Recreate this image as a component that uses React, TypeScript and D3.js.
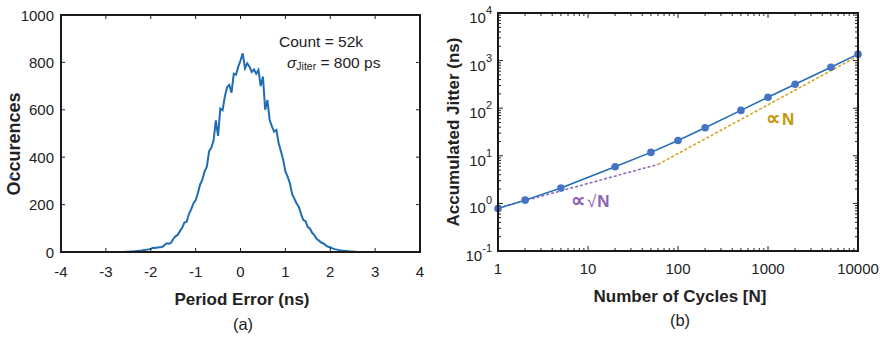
import React from "react";
import * as d3 from "d3";

// (a) histogram of period error
const errX = d3.range(-2.6, 2.6001, 0.05).map((v) => +v.toFixed(2));
const errCount = [
  0, 1, 1, 2, 2, 3, 4, 5, 6, 8, 9, 11, 13, 18, 17, 19, 20, 21, 28, 37, 35, 38,
  55, 66, 72, 88, 102, 124, 128, 160, 180, 205, 218, 248, 285, 305, 340, 360,
  425, 440, 470, 555, 490, 605, 598, 655, 695, 705, 672, 752, 748, 782, 808,
  838, 775, 796, 782, 760, 770, 752, 768, 700, 740, 600, 641, 557, 530, 508,
  515, 460, 425, 390, 340, 318, 290, 245, 225, 205, 190, 160, 135, 130, 105,
  98, 80, 70, 55, 48, 40, 36, 28, 22, 20, 15, 12, 10, 8, 6, 5, 4, 3, 2, 2, 1, 0,
];
const errTicksX = [-4, -3, -2, -1, 0, 1, 2, 3, 4];
const errTicksY = [0, 200, 400, 600, 800, 1000];

// (b) accumulated jitter vs cycles
const cycles = [1, 2, 5, 20, 50, 100, 200, 500, 1000, 2000, 5000, 10000];
const jitter = [0.78, 1.17, 2.1, 5.9, 11.8, 21, 38.8, 90, 170, 318, 726, 1365];
const sqrtFit = [
  [1, 0.8],
  [60, 6.6],
];
const linFit = [
  [60, 6.6],
  [10000, 1250],
];
const cycTicks = [1, 10, 100, 1000, 10000];
const jitExp = [-1, 0, 1, 2, 3, 4];

const FONT = "'Liberation Sans', Arial, sans-serif";
const BLUE = "#1f6db5";
const MARK = "#4673c4";
const ORANGE = "#d2a21c";
const ORANGE_TXT = "#c8960c";
const PURPLE = "#8a63b5";

export default function App() {
  // left panel
  const xa = d3.scaleLinear().domain([-4, 4]).range([61, 420]);
  const ya = d3.scaleLinear().domain([0, 1000]).range([252, 15]);
  const histLine = d3
    .line<number>()
    .x((_, i) => xa(errX[i]))
    .y((d) => ya(d));

  // right panel
  const xb = d3.scaleLog().domain([1, 10000]).range([498, 858]);
  const yb = d3.scaleLog().domain([0.1, 10000]).range([251, 13]);
  const jLine = d3
    .line<number>()
    .x((_, i) => xb(cycles[i]))
    .y((d) => yb(d));
  const fitLine = d3
    .line<number[]>()
    .x((d) => xb(d[0]))
    .y((d) => yb(d[1]));

  const minorX: number[] = [];
  for (let k = 0; k < 4; k++)
    for (let m = 2; m <= 9; m++) minorX.push(m * Math.pow(10, k));
  const minorY: number[] = [];
  for (let k = -1; k < 4; k++)
    for (let m = 2; m <= 9; m++) minorY.push(m * Math.pow(10, k));

  const [ax0, ax1] = xa.range();
  const [ay0, ay1] = ya.range();
  const [bx0, bx1] = xb.range();
  const [by0, by1] = yb.range();

  return (
    <svg
      width={886}
      height={339}
      style={{ position: "absolute", left: 0, top: 0, background: "#fff" }}
      fontFamily={FONT}
    >
      {/* ---------- (a) ---------- */}
      <path d={histLine(errCount) || ""} fill="none" stroke={BLUE} strokeWidth={2} />
      {errTicksX.map((t) => (
        <g key={"ax" + t}>
          <line x1={xa(t)} x2={xa(t)} y1={ay0} y2={ay0 - 4} stroke="#222" />
          <line x1={xa(t)} x2={xa(t)} y1={ay1} y2={ay1 + 4} stroke="#222" />
          <text x={xa(t)} y={276.5} fontSize={15} textAnchor="middle" fill="#222">
            {t}
          </text>
        </g>
      ))}
      {errTicksY.map((t) => (
        <g key={"ay" + t}>
          <line x1={ax0} x2={ax0 + 4} y1={ya(t)} y2={ya(t)} stroke="#222" />
          <line x1={ax1} x2={ax1 - 4} y1={ya(t)} y2={ya(t)} stroke="#222" />
          <text x={54} y={ya(t) + 5.5} fontSize={15} textAnchor="end" fill="#222">
            {t}
          </text>
        </g>
      ))}
      <rect
        x={ax0}
        y={ay1}
        width={ax1 - ax0}
        height={ay0 - ay1}
        fill="none"
        stroke="#1a1a1a"
        strokeWidth={2}
      />
      <text
        transform="translate(19.5,144) rotate(-90)"
        fontSize={18}
        fontWeight="bold"
        textAnchor="middle"
        fill="#222"
      >
        Occurences
      </text>
      <circle cx={11} cy={177} r={1.8} fill={MARK} />
      <text x={242} y={305} fontSize={17} fontWeight="bold" textAnchor="middle" fill="#222">
        Period Error (ns)
      </text>
      <text x={243} y={330} fontSize={16.5} textAnchor="middle" fill="#222">
        (a)
      </text>
      <text x={279} y={47} fontSize={15.5} fill="#222">
        Count = 52k
      </text>
      <text x={287} y={68} fontSize={15.5} fill="#222">
        <tspan fontStyle="italic">σ</tspan>
        <tspan fontSize={10.5} dy={2}>Jiter</tspan>
        <tspan dy={-2}> = 800 ps</tspan>
      </text>

      {/* ---------- (b) ---------- */}
      {minorX.map((t) => (
        <g key={"mx" + t}>
          <line x1={xb(t)} x2={xb(t)} y1={by0} y2={by0 - 3} stroke="#222" />
          <line x1={xb(t)} x2={xb(t)} y1={by1} y2={by1 + 3} stroke="#222" />
        </g>
      ))}
      {minorY.map((t) => (
        <g key={"my" + t}>
          <line x1={bx0} x2={bx0 + 3} y1={yb(t)} y2={yb(t)} stroke="#222" />
          <line x1={bx1} x2={bx1 - 3} y1={yb(t)} y2={yb(t)} stroke="#222" />
        </g>
      ))}
      {cycTicks.map((t) => (
        <g key={"bx" + t}>
          <line x1={xb(t)} x2={xb(t)} y1={by0} y2={by0 - 5} stroke="#222" />
          <line x1={xb(t)} x2={xb(t)} y1={by1} y2={by1 + 5} stroke="#222" />
          <text x={xb(t)} y={274} fontSize={15} textAnchor="middle" fill="#222">
            {t}
          </text>
        </g>
      ))}
      {jitExp.map((e) => {
        const y = yb(Math.pow(10, e));
        return (
          <g key={"by" + e}>
            <line x1={bx0} x2={bx0 + 5} y1={y} y2={y} stroke="#222" />
            <line x1={bx1} x2={bx1 - 5} y1={y} y2={y} stroke="#222" />
            <text x={492} y={y + 10} fontSize={15} textAnchor="end" fill="#222">
              10
              <tspan fontSize={11} dy={-9}>
                {e}
              </tspan>
            </text>
          </g>
        );
      })}
      <path
        d={fitLine(sqrtFit) || ""}
        fill="none"
        stroke={PURPLE}
        strokeWidth={1.5}
        strokeDasharray="3,2"
      />
      <path
        d={fitLine(linFit) || ""}
        fill="none"
        stroke={ORANGE}
        strokeWidth={1.5}
        strokeDasharray="3,2"
      />
      <path d={jLine(jitter) || ""} fill="none" stroke={BLUE} strokeWidth={1.5} />
      {jitter.map((d, i) => (
        <circle key={"pt" + i} cx={xb(cycles[i])} cy={yb(d)} r={3.8} fill={MARK} />
      ))}
      <rect
        x={bx0}
        y={by1}
        width={bx1 - bx0}
        height={by0 - by1}
        fill="none"
        stroke="#1a1a1a"
        strokeWidth={2}
      />
      <text
        transform={`translate(459,${(by0 + by1) / 2}) rotate(-90)`}
        fontSize={17}
        fontWeight="bold"
        textAnchor="middle"
        fill="#222"
      >
        Accumulated Jitter (ns)
      </text>
      <text x={680} y={302} fontSize={17} fontWeight="bold" textAnchor="middle" fill="#222">
        Number of Cycles [N]
      </text>
      <text x={680} y={326} fontSize={16.5} textAnchor="middle" fill="#222">
        (b)
      </text>
      <text x={766} y={125} fontSize={17} fontWeight="bold" fill={ORANGE_TXT}>
        <tspan fontSize={20}>∝</tspan>
        <tspan dx={2}>N</tspan>
      </text>
      <text x={571} y={207} fontSize={17} fontWeight="bold" fill={PURPLE}>
        <tspan fontSize={20}>∝</tspan>
        <tspan fontWeight="normal" dx={2}>√</tspan>
        <tspan dx={1}>N</tspan>
      </text>
    </svg>
  );
}
